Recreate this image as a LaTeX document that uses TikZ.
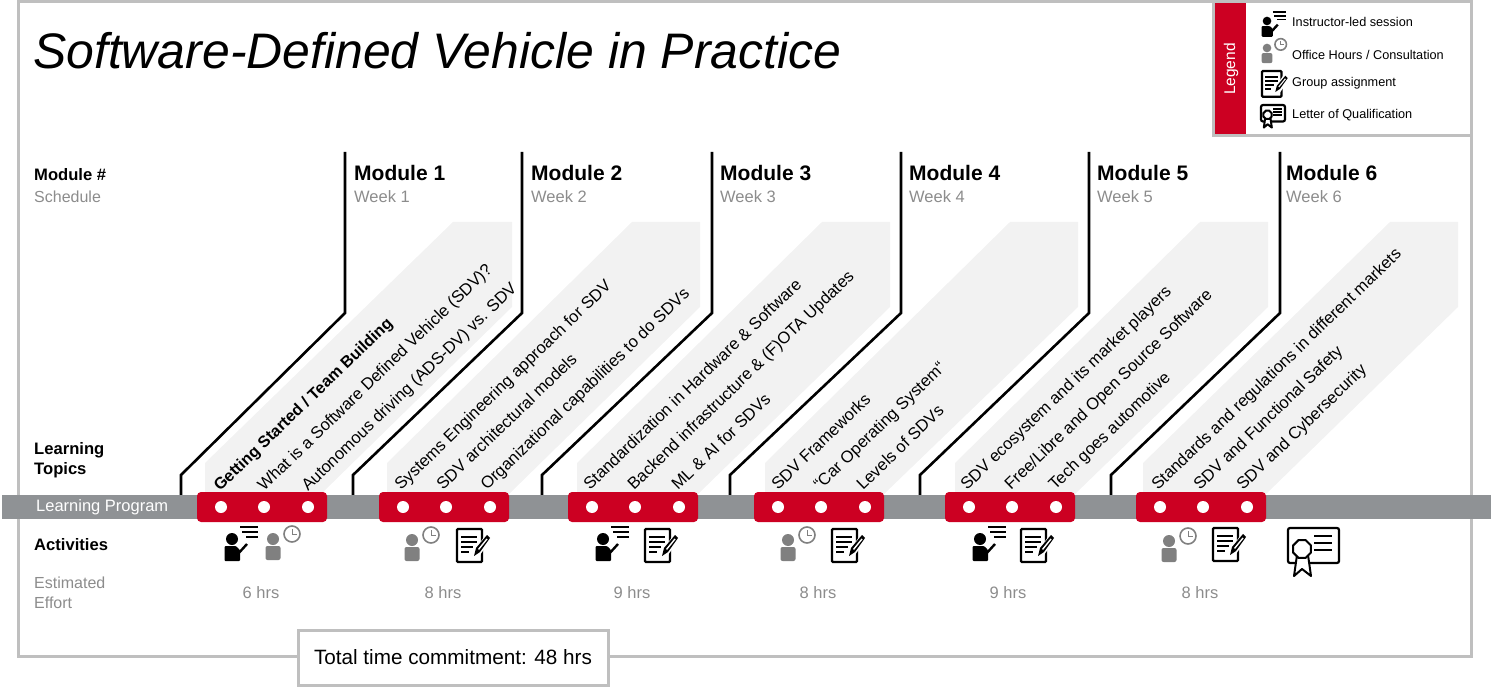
\documentclass[tikz,border=0pt]{standalone}
\usepackage{fontspec}
\setmainfont{Liberation Sans}
\definecolor{hlred}{HTML}{CC0022}
\definecolor{hlgray}{HTML}{8F9295}
\definecolor{txtgray}{HTML}{8C8C8C}
\definecolor{framegray}{HTML}{BFBFBF}
\definecolor{bandgray}{HTML}{F2F2F2}
\definecolor{icongray}{HTML}{808080}
\tikzset{
	fs/.style={font=\fontsize{#1}{#1}\selectfont},
	every node/.style={inner sep=0pt},
	rowhead/.style={anchor=west,font=\fontsize{16.6}{16.6}\selectfont\bfseries},
	rowgray/.style={anchor=west,fs=16,text=txtgray},
	modname/.style={anchor=west,font=\fontsize{21}{21}\selectfont\bfseries},
	weekname/.style={anchor=west,fs=16.5,text=txtgray},
	hrs/.style={fs=16.5,text=txtgray},
	topic/.style={anchor=base west,rotate=44,fs=16.6},
	legendtxt/.style={anchor=west,fs=12.7},
	dot/.style={circle,fill=white,minimum size=12pt},
	pics/instructor/.style={code={
		\fill[black] (0,0) circle [radius=6];
		\fill[black,rounded corners=1pt] (-7.5,7) -- (4,7) -- (8,11) -- (8,22) -- (-7.5,22) -- cycle;
		\draw[black,line width=2.4pt] (5,16) -- (15,5);
		\draw[black,line width=1.8pt] (8,-12) -- (26,-12) (10,-7) -- (26,-7) (14,-2) -- (26,-2);
	}},
	pics/office/.style={code={
		\fill[icongray] (0,0) circle [radius=6];
		\fill[icongray,rounded corners=2pt] (-7.5,7) -- (7.5,7) -- (7.5,21) -- (-7.5,21) -- cycle;
		\draw[icongray,line width=1.6pt] (19,-5) circle [radius=8];
		\draw[icongray,line width=1pt] (19,-10) -- (19,-5) -- (24,-5);
	}},
	pics/assignment/.style={code={
		\draw[black,line width=2.2pt,rounded corners=1pt] (0,0) rectangle (25,33);
		\draw[black,line width=1.8pt] (4,8) -- (20,8) (4,13) -- (20,13) (4,18) -- (16,18) (4,23) -- (12,23);
		\draw[white,line width=7pt] (18,27) -- (32,7);
		\fill[black] (30,6) -- (33,9) -- (23,23) -- (17,27) -- (19,19) -- cycle;
		\fill[white] (29.5,9.5) -- (30.5,10.5) -- (22,21) -- (21,20) -- cycle;
	}},
	pics/certificate/.style={code={
		\draw[black,line width=2.2pt,rounded corners=2pt] (0,0) rectangle (51,35);
		\draw[black,line width=2pt] (26,8) -- (44,8) (26,15) -- (44,15) (26,22) -- (44,22);
		\draw[black,line width=2pt,fill=white,line join=round] (9,27) -- (6,48) -- (14,41) -- (23,48) -- (20,27) -- cycle;
		\draw[black,line width=2pt,fill=white] (14,21) +(22.5:9.5) -- +(67.5:9.5) -- +(112.5:9.5) -- +(157.5:9.5) -- +(202.5:9.5) -- +(247.5:9.5) -- +(292.5:9.5) -- +(337.5:9.5) -- cycle;
	}},
}
\begin{document}
\begin{tikzpicture}[x=1pt,y=-1pt]
	\useasboundingbox (0,0) rectangle (1491,687);
	% frame
	\draw[framegray,line width=3pt] (18,2) rectangle (1471,656);
	\node[anchor=base west,font=\fontsize{49.9}{49.9}\selectfont\itshape] (title) at (33,69) {Software-Defined Vehicle in Practice};
	% legend
	\draw[framegray,line width=3pt,fill=white] (1213,2) rectangle (1471,136);
	\fill[hlred] (1215,3.5) rectangle (1246,134.5);
	\node[rotate=90,fs=15.5,text=white] (legend) at (1231,69) {Legend};
	\pic[scale=.72] at (1267,21) {instructor};
	\pic[scale=.72] at (1267,48) {office};
	\pic[scale=.78] at (1262,71) {assignment};
	\pic[scale=.47] at (1261,105) {certificate};
	\node[legendtxt] (leg1) at (1292,22) {Instructor-led session};
	\node[legendtxt] (leg2) at (1292,55) {Office Hours / Consultation};
	\node[legendtxt] (leg3) at (1292,83) {Group assignment};
	\node[legendtxt] (leg4) at (1292,115) {Letter of Qualification};
	% row labels
	\node[rowhead] (rowmod) at (34,175) {Module \#};
	\node[rowgray] (rowsched) at (34,197) {Schedule};
	\node[rowhead] (rowlearn) at (34,450) {Learning};
	\node[rowhead] (rowtop) at (34,470) {Topics};
	\node[rowhead] (rowact) at (34,545) {Activities};
	\node[rowgray] (rowest) at (34,583) {Estimated};
	\node[rowgray] (roweff) at (34,603) {Effort};
	% topic bands
	\foreach \l/\t/\r/\b in {205/453/512/321,387/632/700/509,577/822/890/698,765/1010/1078/884,955/1200/1268/1075,1143/1390/1458/1266}
		\fill[bandgray] (\l,494) -- (\l,463) -- (\t,222) -- (\r,222) -- (\r,307) -- (\b,494) -- cycle;
	% module lines
	\foreach \a/\b in {345/181,522/353,712/542,901/730,1089/920,1280/1111}
		\draw[black,line width=2.6pt] (\a,152) -- (\a,313) -- (\b,475) -- (\b,495);
	% module heads
	\foreach \n/\x in {1/354,2/531,3/720,4/909,5/1097,6/1286}{
		\node[modname] (mod\n) at (\x,173) {Module \n};
		\node[weekname] (week\n) at (\x,197) {Week \n};
	}
	\foreach \n/\x/\h in {1/261/6,2/443/8,3/632/9,4/818/8,5/1008/9,6/1200/8}
		\node[hrs] (hrs\n) at (\x,592.5) {\h{} hrs};
	% program bar
	\fill[hlgray] (2,495) rectangle (1491,519);
	\node[anchor=west,fs=16.5,text=white] (prog) at (36,507.5) {Learning Program};
	\foreach \n/\x in {1/197,2/379,3/568,4/754,5/945,6/1136}{
		\fill[hlred,rounded corners=4pt] (\x,492) rectangle ++(130,30);
		\node[dot] (d\n a) at (\x+24,507) {};
		\node[dot] (d\n b) at (\x+67,507) {};
		\node[dot] (d\n c) at (\x+111,507) {};
	}
	% topics
	\node[topic,font=\fontsize{16.2}{16.2}\selectfont\bfseries] (t1a) at (220,492) {Getting Started / Team Building};
	\node[topic] (t1b) at (264,492) {What is a Software Defined Vehicle (SDV)?};
	\node[topic] (t1c) at (308,492) {Autonomous  driving (ADS-DV) vs. SDV};
	\node[topic] (t2a) at (401,491) {Systems Engineering approach for SDV};
	\node[topic] (t2b) at (443,491) {SDV architectural models};
	\node[topic] (t2c) at (487,491) {Organizational  capabilities to do SDVs};
	\node[topic] (t3a) at (590,491) {Standardization  in Hardware \& Software};
	\node[topic] (t3b) at (634,491) {Backend infrastructure \& (F)OTA Updates};
	\node[topic] (t3c) at (678,491) {ML \& AI for SDVs};
	\node[topic] (t4a) at (778,491) {SDV Frameworks};
	\node[topic] (t4b) at (820,491) {“Car Operating System“};
	\node[topic] (t4c) at (863,491) {Levels of SDVs};
	\node[topic] (t5a) at (967,491) {SDV ecosystem and its market players};
	\node[topic] (t5b) at (1011,491) {Free/Libre and Open Source Software};
	\node[topic] (t5c) at (1055,491) {Tech goes automotive};
	\node[topic] (t6a) at (1158,491) {Standards and regulations  in different markets};
	\node[topic] (t6b) at (1200,491) {SDV and Functional Safety};
	\node[topic] (t6c) at (1243,491) {SDV and Cybersecurity};
	% activities
	\pic at (232,539) {instructor};
	\pic at (273,539) {office};
	\pic at (412,540) {office};
	\pic at (457,529) {assignment};
	\pic at (603,539) {instructor};
	\pic at (645,529) {assignment};
	\pic at (788,540) {office};
	\pic at (832,529) {assignment};
	\pic at (980,539) {instructor};
	\pic at (1021,529) {assignment};
	\pic at (1169,541) {office};
	\pic at (1213,528) {assignment};
	\pic at (1288,528) {certificate};
	% total
	\node[draw=framegray,line width=3pt,fill=white,minimum width=310pt,minimum height=55pt,fs=20.7] (total) at (453,657.5) {Total time commitment:  48 hrs};
\end{tikzpicture}
\end{document}
